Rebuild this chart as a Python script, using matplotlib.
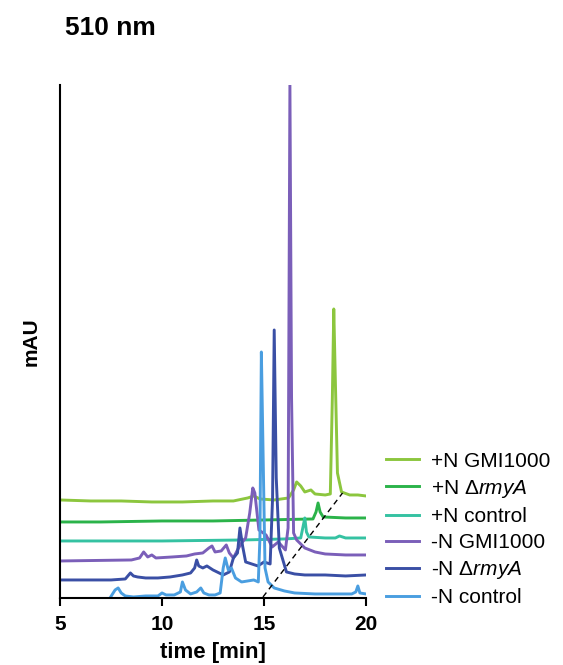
import matplotlib.pyplot as plt

plt.rcParams['font.family'] = ['Liberation Sans', 'DejaVu Sans']
plt.rcParams['mathtext.fontset'] = 'custom'
plt.rcParams['mathtext.rm'] = 'Liberation Sans'
plt.rcParams['mathtext.it'] = 'Liberation Sans:italic'

# traces (time in min, signal in arbitrary mAU units, stacked)
labels = ['+N GMI1000', r'+N $\it{\Delta rmyA}$', '+N control',
          '-N GMI1000', r'-N $\it{\Delta rmyA}$', '-N control']
colors = ['#8cc63e', '#2bb34a', '#35c2a2', '#7b5fb9', '#3a4fa5', '#4a9ee0']

t_pN_gmi = [5.0, 6.5, 8.0, 9.5, 11.0, 12.5, 13.5, 14.2, 14.5, 14.8, 15.5, 16.2, 16.45, 16.6, 16.8,
            17.0, 17.3, 17.5, 18.0, 18.25, 18.35, 18.42, 18.5, 18.6, 18.8, 19.2, 19.6, 20.0]
y_pN_gmi = [98, 97, 97, 96, 96, 97, 97, 100, 102, 99, 98, 100, 108, 116, 112,
            106, 108, 104, 103, 104, 200, 289, 215, 125, 106, 103, 103, 102]

t_pN_rmya = [5.0, 7.0, 10.0, 12.5, 15.0, 17.4, 17.55, 17.65, 17.75, 17.9, 19.0, 20.0]
y_pN_rmya = [76, 76, 77, 77, 78, 79, 86, 95, 86, 81, 80, 80]

t_pN_ctrl = [5.0, 7.5, 10.0, 14.0, 16.0, 16.8, 16.92, 17.0, 17.08, 17.2, 18.0, 18.5, 18.7, 19.0, 20.0]
y_pN_ctrl = [57, 57, 57, 58, 59, 60, 72, 80, 66, 61, 60, 60, 62, 60, 60]

t_mN_gmi = [5.0, 8.5, 8.9, 9.1, 9.3, 9.5, 9.7, 10.5, 11.2, 11.6, 12.0, 12.3, 12.45, 12.6,
            12.9, 13.15, 13.3, 13.5, 13.7, 13.9, 14.1, 14.3, 14.45, 14.55, 14.75, 15.1,
            15.4, 15.7, 16.05, 16.18, 16.27, 16.35, 16.45, 16.6, 17.0, 17.5, 18.0, 19.0, 20.0]
y_mN_gmi = [37, 38, 40, 46, 41, 43, 40, 41, 42, 44, 45, 50, 52, 46,
            47, 53, 45, 40, 48, 55, 60, 85, 110, 105, 68, 63,
            51, 56, 48, 70, 513, 200, 65, 58, 50, 46, 44, 43, 43]

t_mN_rmya = [5.0, 6.5, 7.5, 8.2, 8.45, 8.6, 8.8, 9.2, 9.8, 10.4, 11.0, 11.4, 11.6, 11.7,
             11.8, 12.0, 12.2, 12.35, 12.5, 12.8, 13.0, 13.3, 13.5, 13.7, 13.82, 13.95, 14.1,
             14.4, 14.7, 15.0, 15.3, 15.42, 15.5, 15.6, 15.75, 16.1, 16.5, 17.0, 18.0, 19.0, 20.0]
y_mN_rmya = [18, 18, 18, 19, 25, 22, 21, 20, 20, 21, 23, 25, 30, 38,
             32, 30, 32, 30, 28, 25, 23, 26, 40, 45, 70, 52, 36,
             34, 32, 36, 34, 100, 268, 120, 50, 26, 24, 23, 23, 22, 23]

t_mN_ctrl = [7.45, 7.7, 7.85, 8.0, 8.2, 8.6, 9.2, 9.8, 10.0, 10.2, 10.6, 10.9, 11.0, 11.15,
             11.4, 11.7, 11.9, 12.05, 12.3, 12.6, 12.85, 13.0, 13.1, 13.25, 13.4, 13.6, 13.9,
             14.2, 14.5, 14.72, 14.8, 14.87, 14.95, 15.05, 15.2, 15.5, 16.0, 16.5, 17.5, 18.5,
             19.3, 19.5, 19.6, 19.7, 20.0]
y_mN_ctrl = [0, 8, 10, 5, 2, 1, 2, 2, 5, 3, 3, 6, 16, 8,
             4, 6, 10, 5, 3, 3, 5, 30, 40, 28, 30, 20, 16,
             17, 18, 16, 60, 246, 150, 30, 16, 10, 7, 5, 4, 4,
             4, 6, 12, 5, 4]

times = [t_pN_gmi, t_pN_rmya, t_pN_ctrl, t_mN_gmi, t_mN_rmya, t_mN_ctrl]
signals = [y_pN_gmi, y_pN_rmya, y_pN_ctrl, y_mN_gmi, y_mN_rmya, y_mN_ctrl]

# dashed guide through the late peaks
guide_t = [14.95, 18.85]
guide_y = [1, 105]

fig = plt.figure(figsize=(5.63, 6.65), dpi=100)
ax = fig.add_axes([0.1066, 0.1008, 0.5435, 0.7714])

lines = []
for i in range(6):
    ln, = ax.plot(times[i], signals[i], c=colors[i], lw=2.1, label=labels[i],
                  solid_joinstyle='round')
    lines.append(ln)

ax.plot(guide_t, guide_y, c='black', lw=1.0, ls=(0, (4, 3)))

ax.set_xlim(5, 20)
ax.set_ylim(0, 513)
ax.set_xticks([5, 10, 15, 20])
ax.set_yticks([])
for lab in ax.get_xticklabels():
    lab.set_fontweight('bold')
ax.tick_params(axis='x', labelsize=15, length=6, width=1.5, pad=6)
ax.spines['top'].set_visible(False)
ax.spines['right'].set_visible(False)
ax.spines['left'].set_linewidth(1.5)
ax.spines['bottom'].set_linewidth(1.5)
ax.set_xlabel('time [min]', fontsize=16, fontweight='bold', labelpad=6)
ax.set_ylabel('mAU', fontsize=15, fontweight='bold', labelpad=14)

fig.text(0.116, 1 - 28 / 665, '510 nm', fontsize=19, fontweight='bold', va='center')

fig.legend(handles=lines, loc='center left', bbox_to_anchor=(0.67, 0.204),
           frameon=False, fontsize=15, handlelength=1.6, handletextpad=0.6,
           labelspacing=0.34, borderaxespad=0)

fig.savefig('out.png', dpi=100)
